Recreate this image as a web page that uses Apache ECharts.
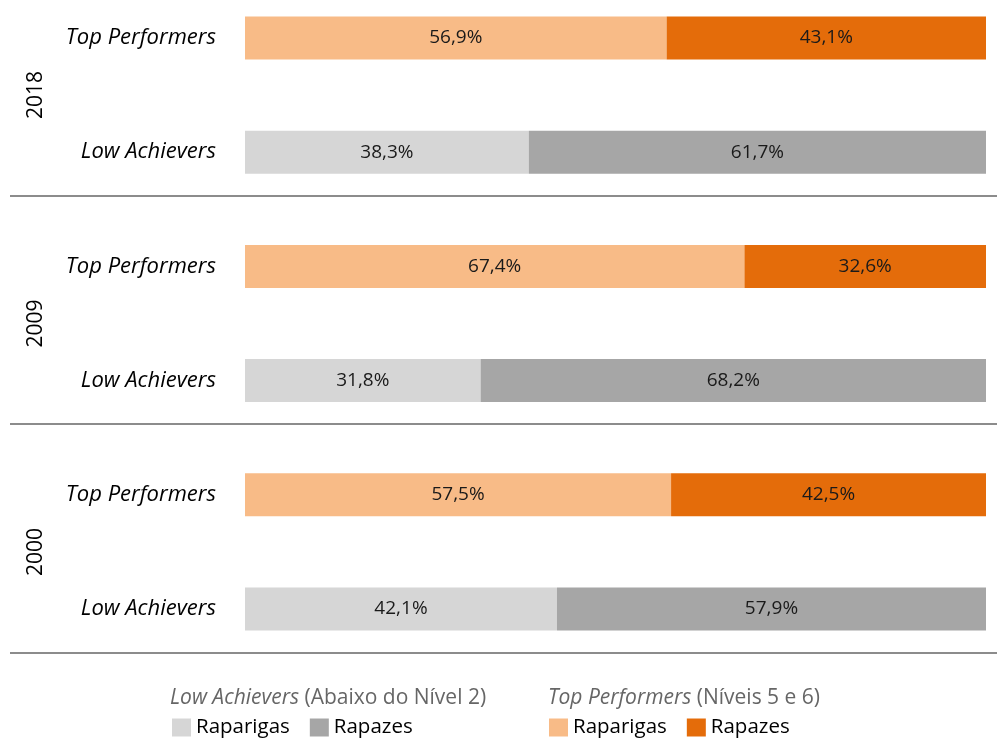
<!DOCTYPE html>
<html>
<head>
<meta charset="utf-8">
<script src="https://cdn.jsdelivr.net/npm/echarts@6/dist/echarts.min.js"></script>
<style>
  html, body { margin: 0; padding: 0; background: #fff; }
  #chart { width: 998px; height: 740px; }
</style>
</head>
<body>
<div id="chart"></div>
<script>
// rows top to bottom
var years = ['2018', '2009', '2000']
var rowKinds = ['Top Performers', 'Low Achievers']
var raparigas = [56.9, 38.3, 67.4, 31.8, 57.5, 42.1]
var rapazes = [43.1, 61.7, 32.6, 68.2, 42.5, 57.9]

var rows = []
years.forEach(function (y) {
  rowKinds.forEach(function (k) { rows.push(k) })
})

var colors = {
  laGirls: '#d6d6d6',
  laBoys: '#a6a6a6',
  tpGirls: '#f8bb87',
  tpBoys: '#e46c0a'
}

function pick (values, kind) {
  return values.map(function (v, i) {
    return rows[i] === kind ? v : '-'
  })
}

var fmt = function (p) {
  return p.value.toFixed(1).replace('.', ',') + '%'
}

function barSeries (name, data, color) {
  return {
    name: name,
    type: 'bar',
    stack: 'total',
    barWidth: 43,
    clip: false,
    data: data,
    itemStyle: { color: color },
    label: {
      show: true,
      position: 'inside',
      formatter: fmt,
      color: '#1a1a1a',
      fontSize: 19,
      fontFamily: 'Open Sans'
    },
    silent: true
  }
}

var headStyle = {
  fontSize: 21, fontWeight: 'normal', color: '#666',
  rich: { i: { fontStyle: 'italic', fontSize: 21, color: '#666' } }
}

var chart = echarts.init(document.getElementById('chart'))
chart.setOption({
  animation: false,
  textStyle: { fontFamily: 'Open Sans' },
  title: [
    { left: 170, top: 688, padding: 0, text: '{i|Low Achievers} (Abaixo do Nível 2)', textStyle: headStyle },
    { left: 548, top: 688, padding: 0, text: '{i|Top Performers} (Níveis 5 e 6)', textStyle: headStyle }
  ],
  legend: [
    {
      left: 172, top: 717, padding: 0,
      icon: 'rect', itemWidth: 19, itemHeight: 18, itemGap: 20,
      data: ['LA Raparigas', 'LA Rapazes'],
      formatter: function (n) { return n.slice(3) },
      textStyle: { fontSize: 20.5, color: '#000' },
      selectedMode: false
    },
    {
      left: 549, top: 717, padding: 0,
      icon: 'rect', itemWidth: 19, itemHeight: 18, itemGap: 20,
      data: ['TP Raparigas', 'TP Rapazes'],
      formatter: function (n) { return n.slice(3) },
      textStyle: { fontSize: 20.5, color: '#000' },
      selectedMode: false
    }
  ],
  grid: [
    { left: 245, right: 12, top: 38, height: 571 },
    { left: 50, width: 10, top: 95, height: 457 }
  ],
  xAxis: [
    { type: 'value', min: 0, max: 100, show: false, gridIndex: 0 },
    { type: 'value', min: 0, max: 1, show: false, gridIndex: 1 }
  ],
  yAxis: [
    {
      type: 'category', data: rows, inverse: true, gridIndex: 0, boundaryGap: false,
      axisLine: { show: false }, axisTick: { show: false }, splitLine: { show: false },
      axisLabel: { margin: 29, fontSize: 22, fontStyle: 'italic', color: '#000' }
    },
    {
      type: 'category', data: years, inverse: true, gridIndex: 1, boundaryGap: false,
      axisLine: { show: false }, axisTick: { show: false }, splitLine: { show: false },
      axisLabel: { rotate: 90, margin: 3, fontSize: 21, color: '#000' }
    }
  ],
  series: [
    barSeries('LA Raparigas', pick(raparigas, 'Low Achievers'), colors.laGirls),
    barSeries('LA Rapazes', pick(rapazes, 'Low Achievers'), colors.laBoys),
    barSeries('TP Raparigas', pick(raparigas, 'Top Performers'), colors.tpGirls),
    barSeries('TP Rapazes', pick(rapazes, 'Top Performers'), colors.tpBoys)
  ],
  graphic: [196, 424, 653].map(function (y) {
    return {
      type: 'line',
      shape: { x1: 10, y1: y, x2: 997, y2: y },
      style: { stroke: '#8c8c8c', lineWidth: 2 }
    }
  })
})
</script>
</body>
</html>
